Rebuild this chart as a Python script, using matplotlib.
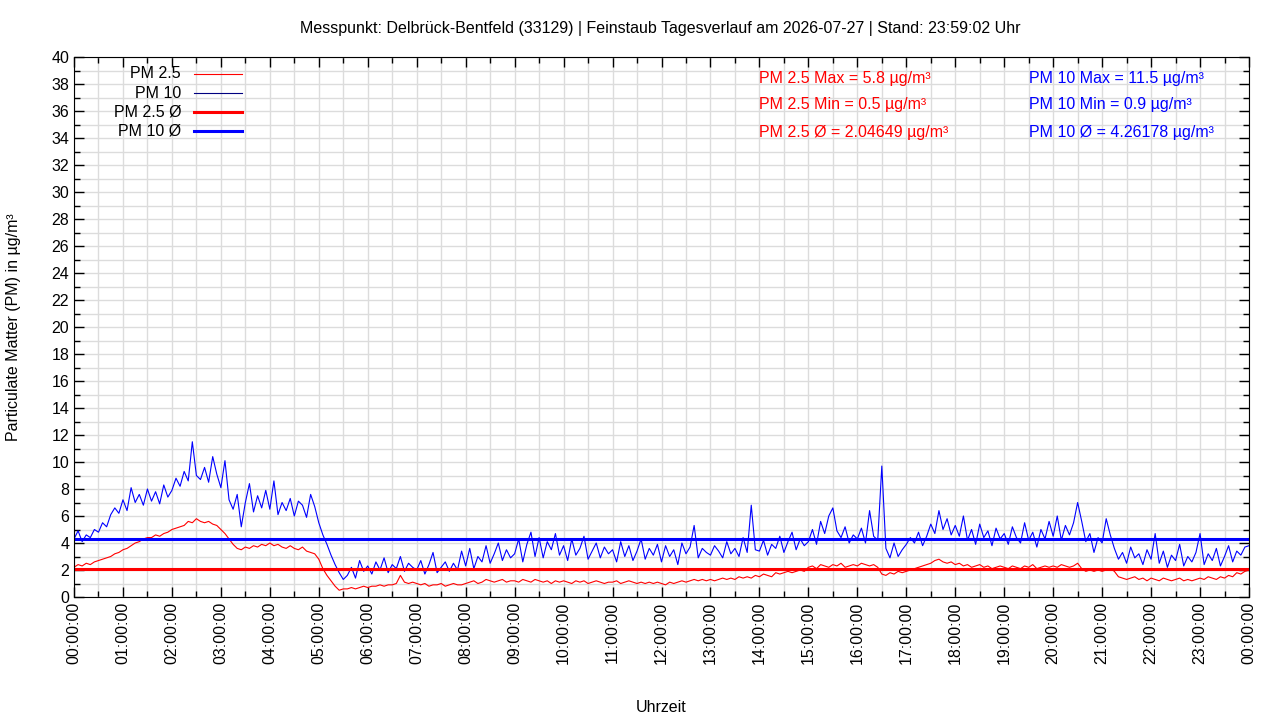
import numpy as np
from matplotlib import pyplot as plt
from matplotlib.lines import Line2D
from matplotlib.ticker import MultipleLocator

plt.rcParams['font.family'] = ['Liberation Sans', 'DejaVu Sans']

# readings every 5 minutes (00:00 ... 24:00)
pm10 = [
    4.3, 4.9, 4.1, 4.6, 4.4, 5.0, 4.8, 5.5, 5.2, 6.1, 6.6, 6.2,
    7.2, 6.4, 8.1, 7.0, 7.6, 6.8, 8.0, 7.1, 7.8, 6.9, 8.3, 7.4,
    7.9, 8.8, 8.2, 9.3, 8.6, 11.5, 9.0, 8.7, 9.6, 8.5, 10.4, 9.1,
    8.1, 10.1, 7.2, 6.5, 7.6, 5.2, 7.0, 8.4, 6.3, 7.5, 6.6, 7.9,
    6.5, 8.6, 6.1, 7.0, 6.4, 7.3, 6.0, 7.1, 6.8, 5.9, 7.6, 6.7,
    5.5, 4.6, 3.9, 3.1, 2.4, 1.8, 1.3, 1.6, 2.2, 1.4, 2.7, 1.9,
    2.3, 1.7, 2.6, 2.0, 2.9, 1.8, 2.4, 2.1, 3.0, 1.9, 2.5, 2.2,
    2.0, 2.7, 1.7, 2.4, 3.3, 1.8, 2.2, 2.6, 1.9, 2.5, 2.0, 3.4,
    2.3, 3.6, 2.1, 3.0, 2.6, 3.8, 2.5, 3.2, 4.0, 2.7, 3.5, 2.9,
    3.2, 4.3, 2.6, 3.9, 4.8, 3.0, 4.4, 2.9, 4.1, 3.5, 4.7, 3.1,
    3.8, 2.7, 4.3, 3.1, 3.6, 4.5, 2.8, 3.4, 4.0, 2.9, 3.7, 3.2,
    3.5, 2.6, 4.1, 3.0, 3.8, 2.7, 3.4, 4.3, 2.8, 3.6, 3.1, 3.9,
    2.6, 3.8, 3.0, 3.5, 2.4, 4.0, 3.2, 3.7, 5.3, 2.9, 3.6, 3.3,
    3.1, 3.8, 3.4, 2.9, 4.1, 3.2, 3.6, 3.0, 4.4, 3.3, 6.8, 3.5,
    3.4, 4.2, 3.1, 3.9, 3.6, 4.5, 3.3, 4.1, 4.8, 3.5, 4.3, 3.8,
    4.1, 5.0, 3.9, 5.6, 4.7, 6.0, 6.6, 4.9, 4.4, 5.2, 4.0, 4.6,
    4.3, 5.1, 4.0, 6.4, 4.5, 4.2, 9.7, 3.6, 2.9, 4.0, 3.0, 3.5,
    3.9, 4.4, 4.0, 4.8, 3.8, 4.5, 5.4, 4.7, 6.4, 5.0, 5.8, 4.6,
    5.3, 4.5, 6.0, 4.2, 5.0, 3.9, 5.4, 4.4, 4.9, 3.8, 5.1, 4.3,
    4.7, 3.9, 5.2, 4.4, 4.0, 5.5, 4.2, 4.8, 3.7, 5.0, 4.3, 5.6,
    4.5, 6.0, 4.2, 5.3, 4.6, 5.5, 7.0, 5.6, 4.1, 4.7, 3.3, 4.4,
    4.0, 5.8, 4.6, 3.6, 2.8, 3.3, 2.5, 3.7, 2.9, 3.2, 2.4, 3.5,
    2.8, 4.7, 2.5, 3.4, 2.2, 3.1, 2.7, 3.9, 2.3, 3.0, 2.6, 3.3,
    4.7, 2.4, 3.2, 2.7, 3.6, 2.3, 3.0, 3.8, 2.6, 3.4, 3.1, 3.7,
    3.8,
]
pm25 = [
    2.2, 2.4, 2.3, 2.5, 2.4, 2.6, 2.7, 2.8, 2.9, 3.0, 3.2, 3.3,
    3.5, 3.6, 3.8, 4.0, 4.1, 4.3, 4.4, 4.4, 4.6, 4.5, 4.7, 4.8,
    5.0, 5.1, 5.2, 5.3, 5.6, 5.5, 5.8, 5.6, 5.5, 5.6, 5.4, 5.3,
    5.0, 4.7, 4.3, 3.9, 3.6, 3.5, 3.7, 3.6, 3.8, 3.7, 3.9, 3.8,
    4.0, 3.8, 3.9, 3.7, 3.6, 3.8, 3.6, 3.5, 3.7, 3.4, 3.3, 3.2,
    2.8, 2.1, 1.6, 1.2, 0.8, 0.5, 0.6, 0.6, 0.7, 0.6, 0.7, 0.8,
    0.7, 0.8, 0.8, 0.9, 0.8, 0.9, 0.9, 1.0, 1.6, 1.1, 1.0, 1.1,
    1.0, 0.9, 1.0, 0.8, 0.9, 0.9, 1.0, 0.8, 0.9, 1.0, 0.9, 0.9,
    1.0, 1.1, 1.2, 1.0, 1.1, 1.3, 1.2, 1.1, 1.2, 1.3, 1.1, 1.2,
    1.2, 1.1, 1.3, 1.2, 1.1, 1.3, 1.2, 1.1, 1.2, 1.0, 1.2, 1.1,
    1.2, 1.1, 1.0, 1.2, 1.1, 1.2, 1.0, 1.1, 1.2, 1.1, 1.0, 1.1,
    1.1, 1.2, 1.0, 1.1, 1.2, 1.1, 1.0, 1.1, 1.0, 1.1, 1.0, 1.1,
    1.0, 0.9, 1.1, 1.0, 1.1, 1.2, 1.1, 1.2, 1.3, 1.2, 1.3, 1.2,
    1.3, 1.2, 1.3, 1.4, 1.3, 1.4, 1.3, 1.5, 1.4, 1.5, 1.4, 1.6,
    1.5, 1.7, 1.6, 1.5, 1.8, 1.7, 1.8, 1.9, 1.8, 1.9, 2.0, 1.9,
    2.2, 2.3, 2.1, 2.4, 2.3, 2.2, 2.4, 2.3, 2.5, 2.2, 2.3, 2.4,
    2.3, 2.5, 2.4, 2.3, 2.4, 2.2, 1.7, 1.6, 1.8, 1.7, 1.9, 1.8,
    1.9, 2.0, 2.1, 2.2, 2.3, 2.4, 2.5, 2.7, 2.8, 2.6, 2.5, 2.6,
    2.4, 2.5, 2.3, 2.4, 2.2, 2.3, 2.4, 2.2, 2.3, 2.1, 2.2, 2.3,
    2.2, 2.1, 2.3, 2.2, 2.1, 2.3, 2.2, 2.4, 2.1, 2.2, 2.3, 2.2,
    2.3, 2.2, 2.4, 2.3, 2.2, 2.3, 2.5, 2.1, 1.9, 2.0, 1.9, 2.0,
    1.9, 2.0, 2.1, 1.9, 1.5, 1.4, 1.3, 1.4, 1.5, 1.3, 1.4, 1.2,
    1.4, 1.3, 1.2, 1.4, 1.3, 1.2, 1.3, 1.4, 1.2, 1.3, 1.2, 1.3,
    1.4, 1.3, 1.5, 1.4, 1.3, 1.5, 1.4, 1.6, 1.5, 1.8, 1.7, 1.9,
    2.0,
]
pm25_max, pm25_min, pm25_avg = 5.8, 0.5, 2.04649
pm10_max, pm10_min, pm10_avg = 11.5, 0.9, 4.26178

hours = np.arange(len(pm10)) * 5 / 60
tick_hours = list(range(25))
tick_labels = ["%02d:00:00" % (h % 24) for h in tick_hours]

W, H = 1280, 720
fig = plt.figure(figsize=(12.8, 7.2), dpi=100)
ax = fig.add_axes([74/W, 1-597/H, 1175/W, 540/H])

ax.plot(hours, pm25, color="#ff0000", lw=0.8)
ax.plot(hours, pm10, color="#0000ff", lw=0.8)
ax.axhline(pm25_avg, color="#ff0000", lw=2.2)
ax.axhline(pm10_avg, color="#0000ff", lw=2.2)

ax.set_xlim(0, 24)
ax.set_ylim(0, 40)
ax.set_xticks(tick_hours)
ax.set_xticklabels(tick_labels, rotation=90)
ax.xaxis.set_minor_locator(MultipleLocator(0.5))
ax.yaxis.set_major_locator(MultipleLocator(2))
ax.yaxis.set_minor_locator(MultipleLocator(1))
ax.tick_params(which="both", direction="in", top=True, right=True, labelsize=11.5, width=1)
ax.tick_params(which="major", length=7)
ax.tick_params(which="minor", length=4)
ax.grid(which="both", color="#dcdcdc", lw=1)
ax.set_axisbelow(True)

ax.set_xlabel("Uhrzeit", fontsize=11.5, labelpad=26)
ax.set_ylabel("Particulate Matter (PM) in µg/m³", fontsize=11.5, labelpad=22)
fig.text(660/W, 1-28/H, "Messpunkt: Delbrück-Bentfeld (33129) | Feinstaub Tagesverlauf am 2026-07-27 | Stand: 23:59:02 Uhr",
         ha="center", va="center", fontsize=11.5)

# legend in gnuplot style: label right-aligned, sample line to the right
legend_rows = [("PM 2.5", "#ff0000", 0.8), ("PM 10", "#000080", 0.8),
               ("PM 2.5 Ø", "#ff0000", 2.2), ("PM 10 Ø", "#0000ff", 2.2)]
for i, (lab, c, lw) in enumerate(legend_rows):
    y = 1 - (74 + 19*i)/H
    fig.text(181/W, y, lab, ha="right", va="center", fontsize=11.5)
    fig.add_artist(Line2D([194/W, 242/W], [y, y], color=c, lw=lw))

stats = [
    (759, 78, "PM 2.5 Max = %.1f µg/m³" % pm25_max, "#ff0000"),
    (759, 105, "PM 2.5 Min = %.1f µg/m³" % pm25_min, "#ff0000"),
    (759, 132, "PM 2.5 Ø = %s µg/m³" % pm25_avg, "#ff0000"),
    (1029, 78, "PM 10 Max = %.1f µg/m³" % pm10_max, "#0000ff"),
    (1029, 105, "PM 10 Min = %.1f µg/m³" % pm10_min, "#0000ff"),
    (1029, 132, "PM 10 Ø = %s µg/m³" % pm10_avg, "#0000ff"),
]
for x, y, s, c in stats:
    fig.text(x/W, 1-y/H, s, color=c, fontsize=11.5, ha="left", va="center")

fig.savefig("out.png")
